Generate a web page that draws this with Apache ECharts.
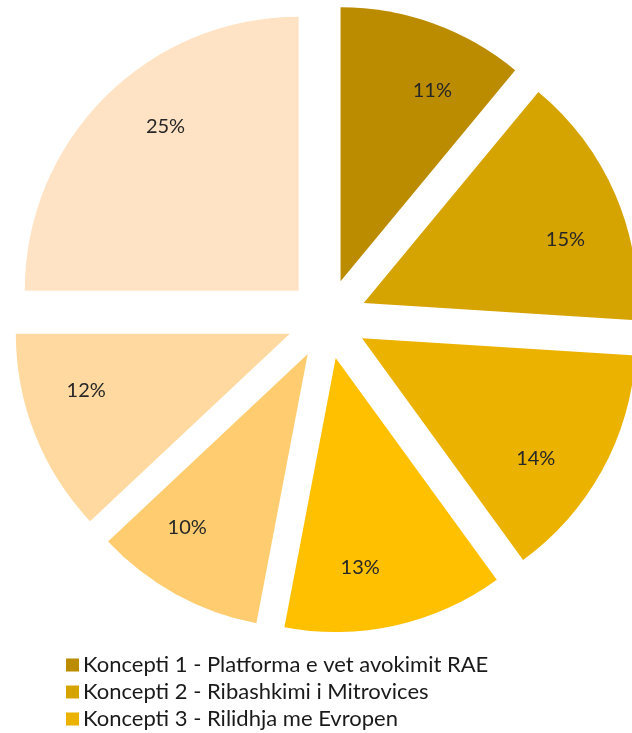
<!DOCTYPE html>
<html>
<head>
<meta charset="utf-8">
<script src="https://cdn.jsdelivr.net/npm/echarts@6/dist/echarts.min.js"></script>
<style>html,body{margin:0;padding:0;background:#fff}#c{width:632px;height:733px}</style>
</head>
<body>
<div id="c"></div>
<script>
const categories = [
  'Koncepti 1 - Platforma e vet avokimit RAE',
  'Koncepti 2 - Ribashkimi i Mitrovices',
  'Koncepti 3 - Rilidhja me Evropen',
  'Koncepti 4',
  'Koncepti 5',
  'Koncepti 6',
  'Koncepti 7'
];
const values = [11, 15, 14, 13, 10, 12, 25];
const colors = ['#BB8C00', '#D6A400', '#EBB300', '#FFC000', '#FFCD70', '#FFD9A0', '#FFE3C4'];
const legendNames = categories.slice(0, 3);

const R = 274;
const chart = echarts.init(document.getElementById('c'));
const mainData = categories.map((n, i) => ({ name: n, value: values[i], selected: true, itemStyle: { color: colors[i] } }));
const labelData = categories.map((n, i) => ({ name: n, value: values[i], selected: true }));
chart.setOption({
  animation: false,
  legend: {
    data: legendNames,
    orient: 'vertical',
    left: 61,
    top: 649,
    height: 84,
    itemWidth: 13,
    itemHeight: 13,
    itemGap: 5,
    icon: 'rect',
    selectedMode: false,
    textStyle: { fontFamily: 'Lato', fontSize: 22, lineHeight: 22, color: '#1a1a1a', padding: [0, 0, 0, -1] }
  },
  series: [
    {
      type: 'pie',
      center: [327, 319],
      radius: [0, R],
      startAngle: 90,
      clockwise: true,
      selectedMode: 'multiple',
      selectedOffset: 40,
      silent: true,
      label: { show: false },
      labelLine: { show: false },
      emphasis: { disabled: true },
      data: mainData
    },
    {
      type: 'pie',
      center: [327, 319],
      radius: [R * 0.52, R],
      startAngle: 85,
      clockwise: true,
      selectedMode: 'multiple',
      selectedOffset: 40,
      silent: true,
      itemStyle: { color: 'rgba(0,0,0,0)' },
      label: {
        show: true,
        position: 'inside',
        formatter: p => p.value + '%',
        fontFamily: 'Lato',
        fontSize: 20,
        color: '#262626'
      },
      labelLine: { show: false },
      emphasis: { disabled: true },
      data: labelData
    }
  ]
});
</script>
</body>
</html>
